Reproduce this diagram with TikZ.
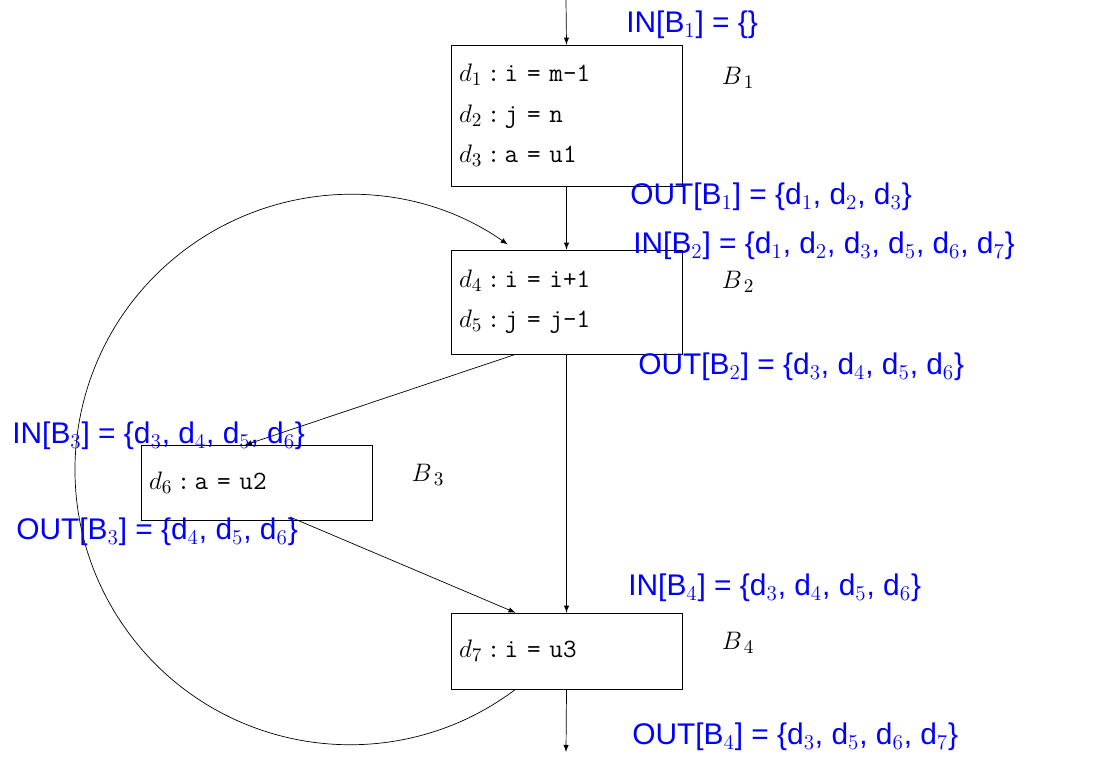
\documentclass[tikz,border=0pt]{standalone}
\usepackage{amsmath,amssymb}
\usepackage{fontspec}
\usetikzlibrary{calc}
\newfontfamily\annfont{Liberation Sans}
\tikzset{
  blk/.style={draw, rectangle, minimum width=4.62cm, align=left, text width=4.3cm,
    font=\fontsize{15}{23}\selectfont\ttfamily},
  ann/.style={anchor=west, text=blue, inner sep=0pt, font=\fontsize{17}{19}\selectfont\annfont},
  lbl/.style={inner sep=0pt, font=\fontsize{15}{18}\selectfont},
  flow/.style={-latex}
}
\newcommand{\dd}[1]{$d_{#1}$\,:\,}
\begin{document}
\begin{tikzpicture}[x=0.02cm,y=-0.02cm]
\useasboundingbox (0,0) rectangle (1094,778);

\node[blk, minimum height=2.82cm] (b1) at (566.5,115.5) {\dd1i = m-1\\ \dd2j = n\\ \dd3a = u1};
\node[blk, minimum height=2.08cm] (b2) at (566.5,302) {\dd4i = i+1\\ \dd5j = j-1};
\node[blk, minimum height=1.5cm] (b3) at (256.5,482.5) {\dd6a = u2};
\node[blk, minimum height=1.52cm] (b4) at (566.5,651) {\dd7i = u3};

\node[lbl] (n1) at (738,78) {$B_{\,1}$};
\node[lbl] (n2) at (738,282) {$B_{\,2}$};
\node[lbl] (n3) at (428,475) {$B_{\,3}$};
\node[lbl] (n4) at (738,643) {$B_{\,4}$};

\coordinate (entry) at (566,0);
\coordinate (exit) at (566,752);
\draw[flow] (entry) -- (b1.north);
\draw[flow] (b1.south) -- (b2.north);
\draw[flow] (b2.south) -- (b4.north);
\draw[flow] ($(b2.south)+(-51,0)$) -- (245,445);
\draw[flow] (290,517) -- ($(b4.north)+(-51,0)$);
\draw[flow] (b4.south) -- (exit);
% back edge
\draw[flow] ($(b4.south)+(-51,0)$) arc[start angle=53, end angle=305, radius=275];

\node[ann] (i1) at (626,25) {IN[B$_1$] = \{\}};
\node[ann] (o1) at (630,197) {OUT[B$_1$] = \{d$_1$, d$_2$, d$_3$\}};
\node[ann] (i2) at (633,246) {IN[B$_2$] = \{d$_1$, d$_2$, d$_3$, d$_5$, d$_6$, d$_7$\}};
\node[ann] (o2) at (638,367) {OUT[B$_2$] = \{d$_3$, d$_4$, d$_5$, d$_6$\}};
\node[ann] (i3) at (12,436) {IN[B$_3$] = \{d$_3$, d$_4$, d$_5$, d$_6$\}};
\node[ann] (o3) at (16,532) {OUT[B$_3$] = \{d$_4$, d$_5$, d$_6$\}};
\node[ann] (i4) at (628,588) {IN[B$_4$] = \{d$_3$, d$_4$, d$_5$, d$_6$\}};
\node[ann] (o4) at (632,737) {OUT[B$_4$] = \{d$_3$, d$_5$, d$_6$, d$_7$\}};

\end{tikzpicture}
\end{document}
